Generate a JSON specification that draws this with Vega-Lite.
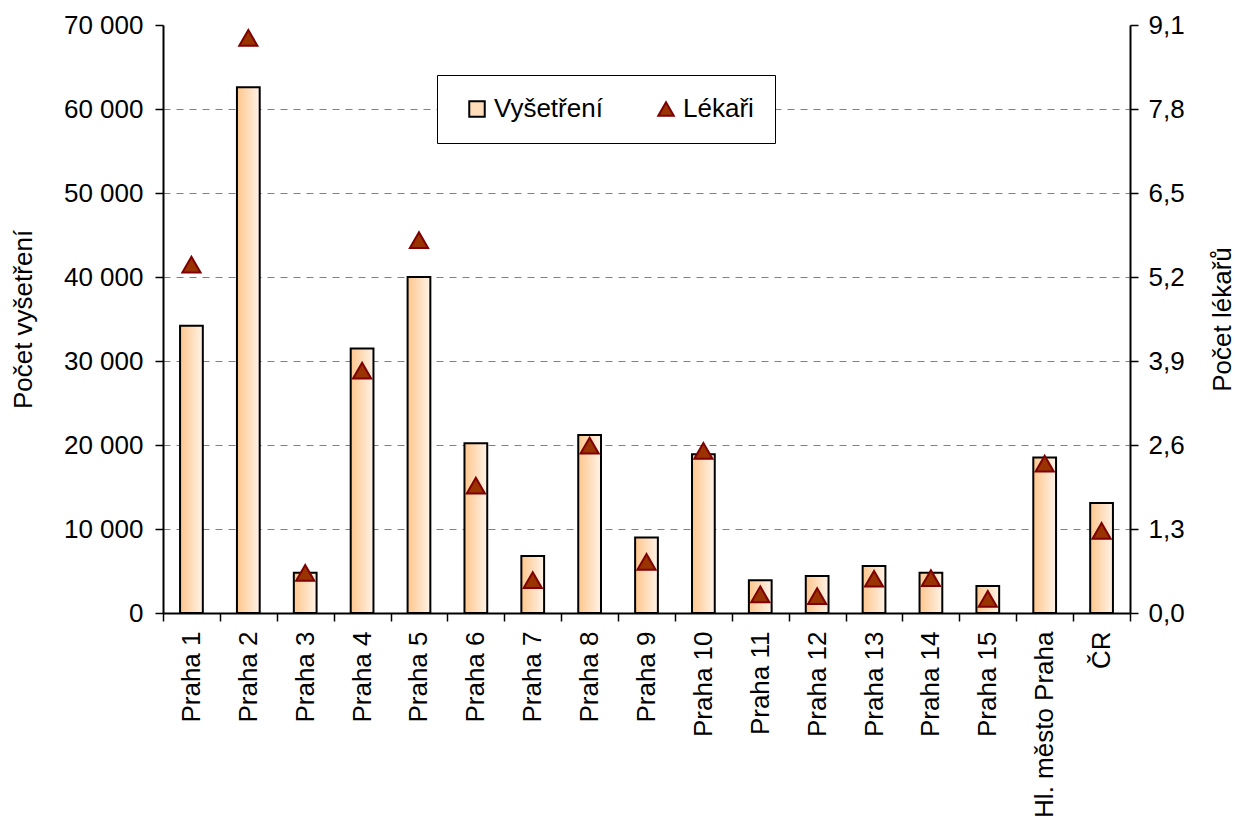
{
  "$schema": "https://vega.github.io/schema/vega-lite/v6.json",
  "width": 967,
  "height": 588,
  "autosize": {"type": "none"},
  "padding": {"left": 163, "top": 25, "right": 106, "bottom": 210},
  "background": "white",
  "config": {
    "locale": {"number": {"decimal": ",", "thousands": " ", "grouping": [3], "currency": ["", " Kč"]}},
    "font": "Liberation Sans",
    "view": {"stroke": null},
    "axis": {"labelFont": "Liberation Sans", "titleFont": "Liberation Sans", "labelColor": "black", "titleColor": "black", "domainColor": "black", "tickColor": "black", "labelFontSize": 26, "titleFontSize": 26, "titleFontWeight": "normal", "labelLimit": 400},
    "legend": {"labelFont": "Liberation Sans", "labelFontSize": 26, "labelColor": "black"}
  },
  "data": {"values": [
    {"okres": "Praha 1", "Vyšetření": 34200, "Lékaři": 5.39},
    {"okres": "Praha 2", "Vyšetření": 62600, "Lékaři": 8.9},
    {"okres": "Praha 3", "Vyšetření": 4800, "Lékaři": 0.62},
    {"okres": "Praha 4", "Vyšetření": 31500, "Lékaři": 3.75},
    {"okres": "Praha 5", "Vyšetření": 40000, "Lékaři": 5.77},
    {"okres": "Praha 6", "Vyšetření": 20200, "Lékaři": 1.97},
    {"okres": "Praha 7", "Vyšetření": 6800, "Lékaři": 0.51},
    {"okres": "Praha 8", "Vyšetření": 21200, "Lékaři": 2.59},
    {"okres": "Praha 9", "Vyšetření": 9000, "Lékaři": 0.79},
    {"okres": "Praha 10", "Vyšetření": 18900, "Lékaři": 2.51},
    {"okres": "Praha 11", "Vyšetření": 3900, "Lékaři": 0.29},
    {"okres": "Praha 12", "Vyšetření": 4400, "Lékaři": 0.26},
    {"okres": "Praha 13", "Vyšetření": 5600, "Lékaři": 0.53},
    {"okres": "Praha 14", "Vyšetření": 4800, "Lékaři": 0.54},
    {"okres": "Praha 15", "Vyšetření": 3200, "Lékaři": 0.22},
    {"okres": "Hl. město Praha", "Vyšetření": 18500, "Lékaři": 2.31},
    {"okres": "ČR", "Vyšetření": 13100, "Lékaři": 1.27}
  ]},
  "encoding": {
    "x": {
      "field": "okres", "type": "nominal", "sort": null,
      "scale": {"paddingInner": 0, "paddingOuter": 0},
      "axis": {"title": null, "labelAngle": -90, "labelPadding": 10, "labelLimit": 400, "tickBand": "extent", "tickSize": 8, "tickWidth": 1.5, "domainWidth": 2, "grid": false}
    }
  },
  "layer": [
    {
      "mark": {
        "type": "bar",
        "width": {"band": 0.4},
        "stroke": "black",
        "strokeWidth": 2,
        "color": {"gradient": "linear", "x1": 0, "y1": 0, "x2": 1, "y2": 0, "stops": [{"offset": 0, "color": "#FFC68C"}, {"offset": 1, "color": "#FFF3E8"}]}
      },
      "encoding": {
        "y": {
          "field": "Vyšetření", "type": "quantitative",
          "scale": {"domain": [0, 70000], "nice": false},
          "axis": {
            "title": "Počet vyšetření", "format": ",d", "values": [0, 10000, 20000, 30000, 40000, 50000, 60000, 70000],
            "titleX": -140, "titleY": 294, "titleAngle": -90, "titleBaseline": "middle",
            "labelPadding": 12, "tickSize": 8, "tickWidth": 1.5, "domainWidth": 2,
            "grid": true, "gridDash": [7, 6], "gridWidth": 1,
            "gridColor": {"condition": {"test": "datum.value >= 70000 || datum.value <= 0", "value": "transparent"}, "value": "#808080"}
          }
        }
      }
    },
    {
      "transform": [{"fold": ["Lékaři"], "as": ["serie", "hodnota"]}],
      "mark": {"type": "point", "filled": true, "shape": "triangle-up", "size": 330, "strokeWidth": 2, "opacity": 1},
      "encoding": {
        "y": {
          "field": "hodnota", "type": "quantitative",
          "scale": {"domain": [0, 9.1], "nice": false},
          "axis": {
            "orient": "right", "title": "Počet lékařů", "format": ".1f", "values": [0, 1.3, 2.6, 3.9, 5.2, 6.5, 7.8, 9.1],
            "titleX": 92, "titleY": 294, "titleAngle": -90, "titleBaseline": "middle",
            "labelPadding": 10, "tickSize": 8, "tickWidth": 1.5, "domainWidth": 2, "grid": false
          }
        },
        "shape": {"field": "serie", "type": "nominal", "scale": {"domain": ["Vyšetření", "Lékaři"], "range": ["square", "triangle-up"]},
          "legend": {"title": null, "orient": "none", "legendX": 274, "legendY": 50, "direction": "horizontal", "padding": 21, "symbolOffset": 6, "columnPadding": 44, "labelOffset": 4, "symbolSize": 240, "symbolStrokeWidth": 2, "strokeColor": "black", "fillColor": "white"}},
        "fill": {"field": "serie", "type": "nominal", "scale": {"domain": ["Vyšetření", "Lékaři"], "range": ["#FFDDBB", "#993300"]}, "legend": {"title": null, "orient": "none", "legendX": 274, "legendY": 50, "direction": "horizontal", "padding": 21, "symbolOffset": 6, "columnPadding": 44, "labelOffset": 4, "symbolSize": 240, "symbolStrokeWidth": 2, "strokeColor": "black", "fillColor": "white"}},
        "stroke": {"field": "serie", "type": "nominal", "scale": {"domain": ["Vyšetření", "Lékaři"], "range": ["black", "#7F0000"]}, "legend": {"title": null, "orient": "none", "legendX": 274, "legendY": 50, "direction": "horizontal", "padding": 21, "symbolOffset": 6, "columnPadding": 44, "labelOffset": 4, "symbolSize": 240, "symbolStrokeWidth": 2, "strokeColor": "black", "fillColor": "white"}}
      }
    }
  ],
  "resolve": {"scale": {"y": "independent"}}
}
